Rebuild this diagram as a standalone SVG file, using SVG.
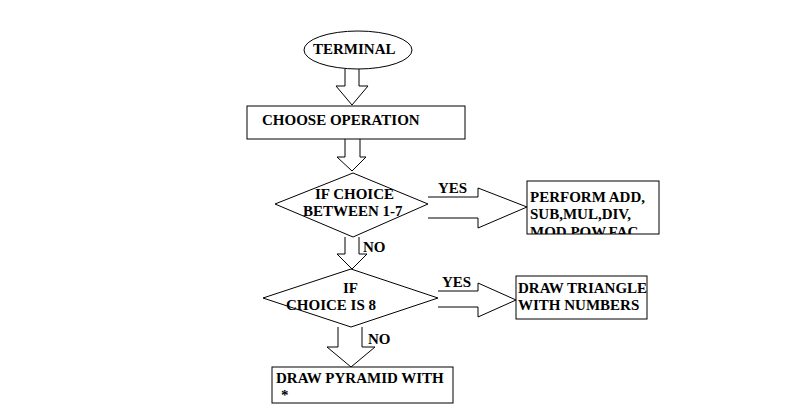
<svg xmlns="http://www.w3.org/2000/svg" width="789" height="412" viewBox="0 0 789 412">
<style>
.s{fill:#fff;stroke:#000;stroke-width:1}
.a{fill:#fff;stroke:#000;stroke-width:1}
.t{font-family:"Liberation Serif","Times New Roman",serif;font-weight:bold;font-size:15px;fill:#000}
</style>
<defs>
<clipPath id="clipPerform"><rect x="527" y="181" width="132" height="53"/></clipPath>
</defs>
<rect x="0" y="0" width="789" height="412" fill="#fff"/>
<g id="connectors">
<path class="a" d="M345,69 V86 H336 L352,105 L368,86 H359 V69"/>
<path class="a" d="M345,139 V157 H337 L352,171 L366,157 H360 V139"/>
<path class="a" d="M428,197 H478 V188 L527,207 L478,228 V218 H428"/>
<path class="a" d="M345,237 V254 H337 L352,269 L367,254 H359 V237"/>
<path class="a" d="M438,291 H478 V283 L516,300 L478,317 V307 H438"/>
<path class="a" d="M338,327 V347 H327 L351,367 L375,347 H362 V327"/>
<text class="t" x="438" y="193">YES</text>
<text class="t" x="363" y="252">NO</text>
<text class="t" x="442" y="287">YES</text>
<text class="t" x="368" y="344">NO</text>
</g>
<g id="terminal">
<ellipse class="s" cx="358" cy="50" rx="54" ry="19"/>
<text class="t" x="313" y="54">TERMINAL</text>
</g>
<g id="choose">
<rect class="s" x="247" y="106" width="218" height="33"/>
<text class="t" x="262" y="125">CHOOSE OPERATION</text>
</g>
<g id="decision1">
<polygon class="s" points="353,173 428,204 353,237 275,204"/>
<text class="t" x="315" y="199">IF CHOICE</text>
<text class="t" x="303" y="216">BETWEEN 1-7</text>
</g>
<g id="perform">
<rect class="s" x="527" y="181" width="132" height="53"/>
<g clip-path="url(#clipPerform)">
<text class="t" x="530" y="202">PERFORM ADD,</text>
<text class="t" x="530" y="219">SUB,MUL,DIV,</text>
<text class="t" x="530" y="237">MOD,POW,FAC</text>
</g>
</g>
<g id="decision2">
<polygon class="s" points="351,269 438,298 351,327 263,298"/>
<text class="t" x="343" y="293">IF</text>
<text class="t" x="286" y="310">CHOICE IS 8</text>
</g>
<g id="triangle">
<rect class="s" x="516" y="276" width="131" height="43"/>
<text class="t" x="518" y="293">DRAW TRIANGLE</text>
<text class="t" x="518" y="310">WITH NUMBERS</text>
</g>
<g id="pyramid">
<rect class="s" x="272" y="367" width="181" height="36"/>
<text class="t" x="276" y="383">DRAW PYRAMID WITH</text>
<text class="t" x="281" y="400">*</text>
</g>
</svg>
